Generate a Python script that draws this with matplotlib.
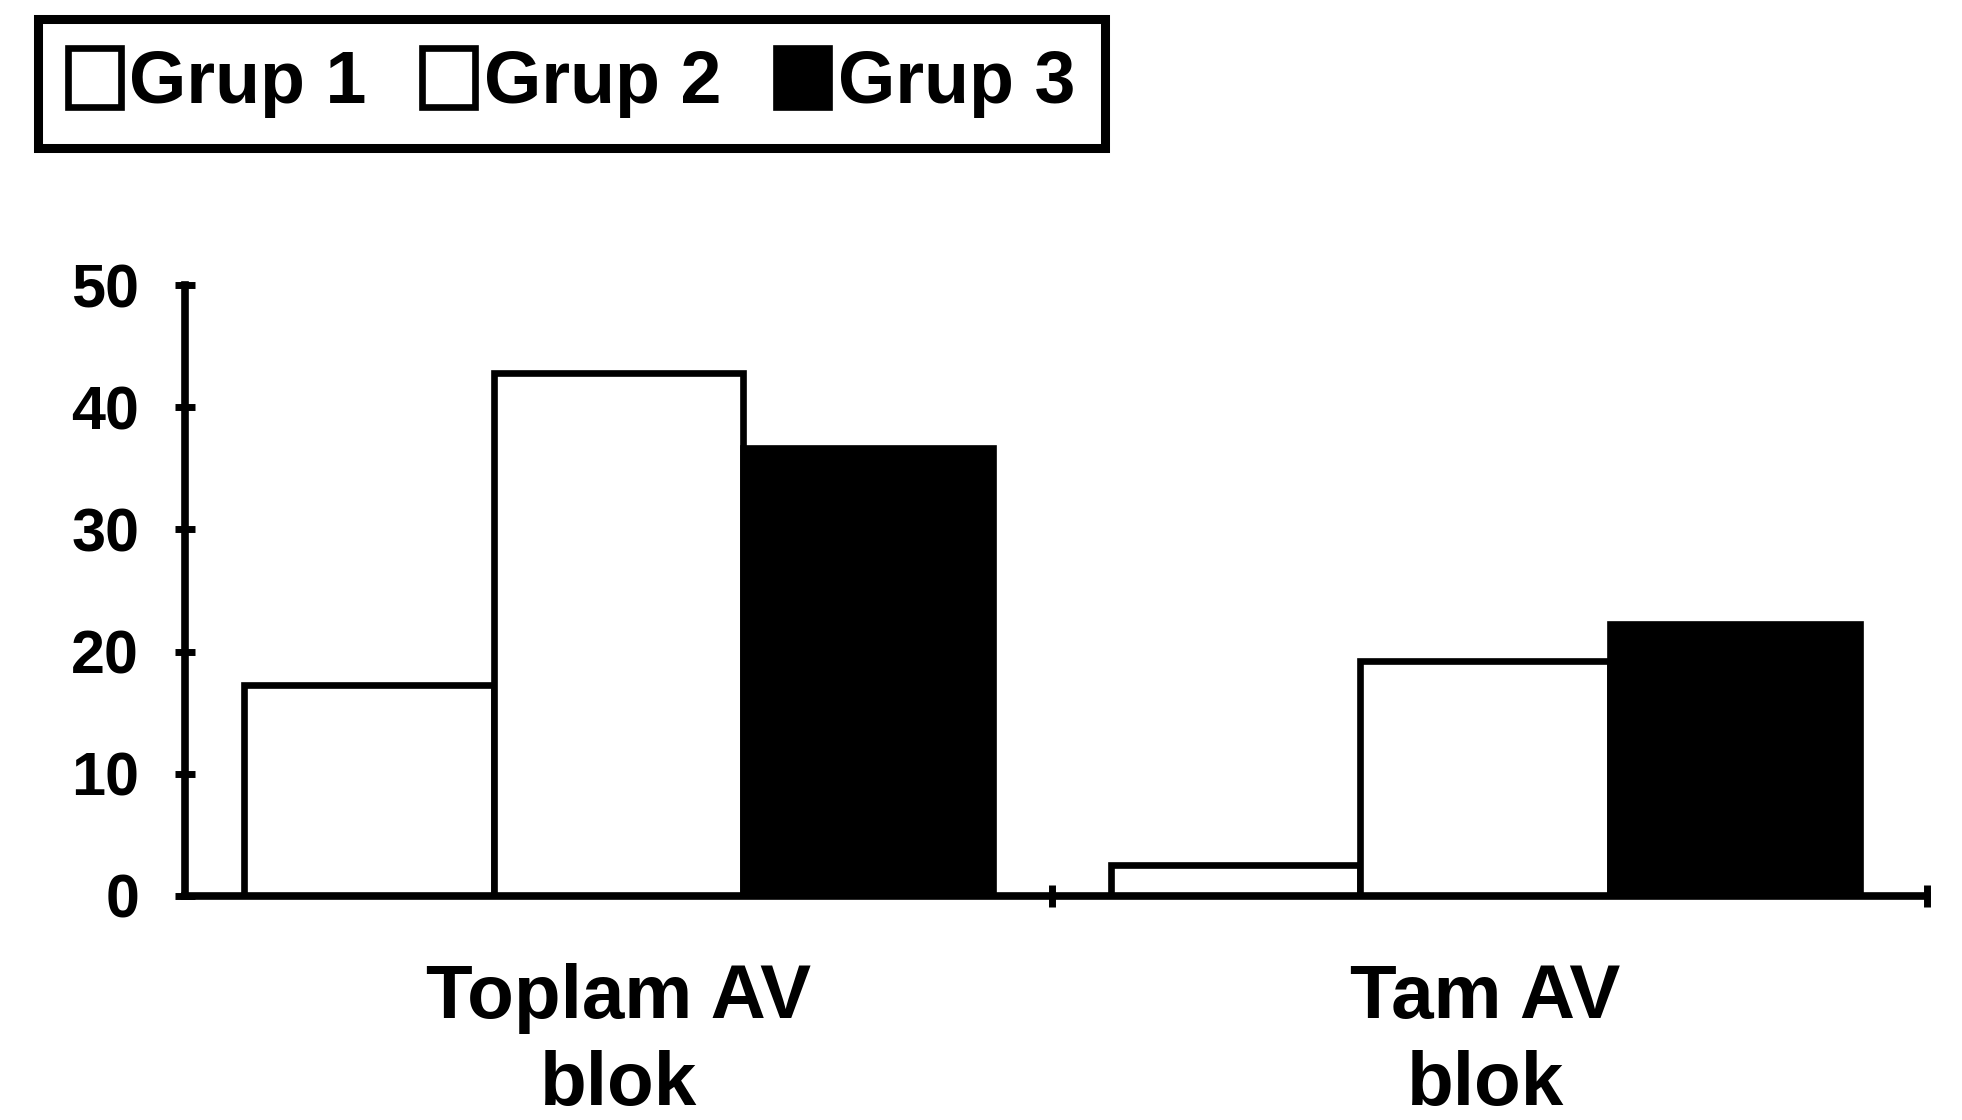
import matplotlib
matplotlib.use("Agg")
import matplotlib.pyplot as plt
import numpy as np
from matplotlib.ticker import FixedLocator

categories = ["Toplam AV\nblok", "Tam AV\nblok"]
series_names = ["Grup 1", "Grup 2", "Grup 3"]
grup1 = [17.3, 2.5]
grup2 = [42.8, 19.2]
grup3 = [36.7, 22.3]
yticks = [0, 10, 20, 30, 40, 50]

plt.rcParams['font.family'] = ['Liberation Sans', 'DejaVu Sans']
plt.rcParams['font.weight'] = 'bold'

fig = plt.figure(figsize=(19.62, 11.20), dpi=100)
ax = fig.add_axes([0.0943, 0.2, 0.888, 0.5455])

x = np.arange(len(categories))
w = 0.288
lw = 4.8
fills = ["white", "white", "black"]
for i, (vals, fc, name) in enumerate(zip([grup1, grup2, grup3], fills, series_names)):
    ax.bar(x + (i - 1) * w, vals, width=w, facecolor=fc, edgecolor="black",
           linewidth=lw, label=name, zorder=2)

ax.set_xlim(-0.5, 1.51)
ax.set_ylim(0, 50)
ax.set_yticks(yticks)
ax.set_yticklabels([str(v) for v in yticks], fontsize=44, fontweight='bold')
ax.set_xticks(x)
ax.set_xticklabels(categories, fontsize=55, fontweight='bold', linespacing=1.3)
ax.xaxis.set_minor_locator(FixedLocator([0.5, 1.51]))
ax.tick_params(axis='x', which='major', length=0, pad=48)
ax.tick_params(axis='x', which='minor', direction='inout', length=16, width=5)
ax.tick_params(axis='y', direction='inout', length=14, width=5, pad=26)

for s in ["top", "right"]:
    ax.spines[s].set_visible(False)
for s in ["left", "bottom"]:
    ax.spines[s].set_linewidth(5.5)
    ax.spines[s].set_zorder(3)

leg = fig.legend(loc='upper left', bbox_to_anchor=(0.0194, 0.983), ncol=3,
                 prop={'weight': 'bold', 'size': 53},
                 frameon=True, fancybox=False, framealpha=1,
                 handlelength=0.72, handleheight=0.85,
                 handletextpad=0.12, columnspacing=0.75, borderpad=0.4,
                 borderaxespad=0)
leg.get_frame().set_edgecolor("black")
leg.get_frame().set_linewidth(6.5)

fig.savefig("out.png", dpi=100, facecolor="white")
